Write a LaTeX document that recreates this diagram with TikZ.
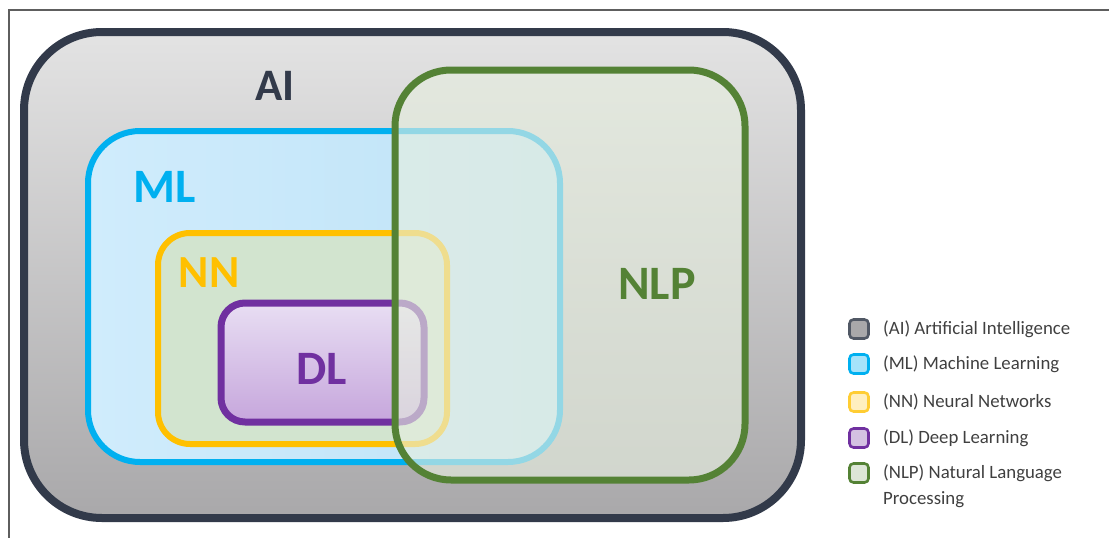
\documentclass[tikz,border=0pt]{standalone}
\usepackage{fontspec}
\setmainfont{Carlito}
\definecolor{frameline}{HTML}{5E5E5E}
\definecolor{aistroke}{HTML}{323A4A}
\definecolor{aitop}{HTML}{E3E3E3}
\definecolor{aibottom}{HTML}{A9A8AA}
\definecolor{mlblue}{HTML}{00B0F0}
\definecolor{mlfillA}{HTML}{D0ECFC}
\definecolor{mlfillB}{HTML}{BEE3F7}
\definecolor{nnyellow}{HTML}{FFC000}
\definecolor{nnfill}{HTML}{D2E4CF}
\definecolor{dlpurple}{HTML}{7030A0}
\definecolor{dlfillA}{HTML}{E8DEF3}
\definecolor{dlfillB}{HTML}{C6A6DC}
\definecolor{nlpgreen}{HTML}{548235}
\definecolor{nlpfill}{HTML}{E6EEDF}
\definecolor{legendtext}{HTML}{404040}
\begin{document}
\begin{tikzpicture}[x=1pt,y=-1pt,
  frame/.style={draw=frameline, line width=1.2pt},
  lbl/.style={font=\bfseries\fontsize{48}{48}\selectfont, inner sep=0pt},
  keybox/.style={minimum width=19pt, minimum height=19pt, rounded corners=4pt,
                 line width=2.6pt, inner sep=0pt},
  keytext/.style={anchor=west, font=\fontsize{18.8}{20}\selectfont,
                  text=legendtext, inner sep=0pt}]
\useasboundingbox (0,0) rectangle (1109,538);
\fill[white] (0,0) rectangle (1109,538);

% page frame (top and left edges)
\coordinate (fb) at (9,538);
\coordinate (ft) at (1109,10);
\draw[frame] (fb) |- (ft);

% AI
\path[draw=aistroke, line width=8pt, rounded corners=78pt,
      top color=aitop, bottom color=aibottom] (24,32) rectangle (801,518);
% ML
\path[draw=mlblue, line width=6pt, rounded corners=52pt,
      left color=mlfillA, right color=mlfillB] (88,131) rectangle (560,462);
% NN
\path[draw=nnyellow, line width=6pt, rounded corners=32pt,
      fill=nnfill] (158,233) rectangle (447,444);
% DL
\path[draw=dlpurple, line width=7pt, rounded corners=24pt,
      top color=dlfillA, bottom color=dlfillB] (221,303) rectangle (424,422);
% NLP, translucent over the others
\path[fill=nlpfill, fill opacity=0.64] [rounded corners=56pt] (395,70) rectangle (745,480);
\draw[nlpgreen, line width=7pt, rounded corners=56pt] (395,70) rectangle (745,480);

% region labels
\node[lbl, text=aistroke, font=\bfseries\fontsize{45}{45}\selectfont] (ai) at (275,86) {AI};
\node[lbl, text=mlblue] (ml) at (165,187) {ML};
\node[lbl, text=nnyellow, font=\bfseries\fontsize{46}{46}\selectfont] (nn) at (209,273) {NN};
\node[lbl, text=dlpurple] (dl) at (322,369) {DL};
\node[lbl, text=nlpgreen] (nlp) at (657,284) {NLP};

% legend
\node[keybox, draw=aistroke!85, fill=aibottom] (kai) at (859,329) {};
\node[keytext] (tai) at (883,329) {(AI) Artificial Intelligence};
\node[keybox, draw=mlblue, fill=mlblue!35] (kml) at (859,364) {};
\node[keytext] (tml) at (883,364) {(ML) Machine Learning};
\node[keybox, draw=nnyellow!80, fill=nnyellow!25] (knn) at (859,402) {};
\node[keytext] (tnn) at (883,402) {(NN) Neural Networks};
\node[keybox, draw=dlpurple, fill=dlpurple!30] (kdl) at (859,438) {};
\node[keytext] (tdl) at (883,438) {(DL) Deep Learning};
\node[keybox, draw=nlpgreen, fill=nlpgreen!20] (knlp) at (859,473) {};
\node[keytext] (tnlp) at (883,473) {(NLP) Natural Language};
\node[keytext] (tnlp2) at (883,500) {Processing};
\end{tikzpicture}
\end{document}
